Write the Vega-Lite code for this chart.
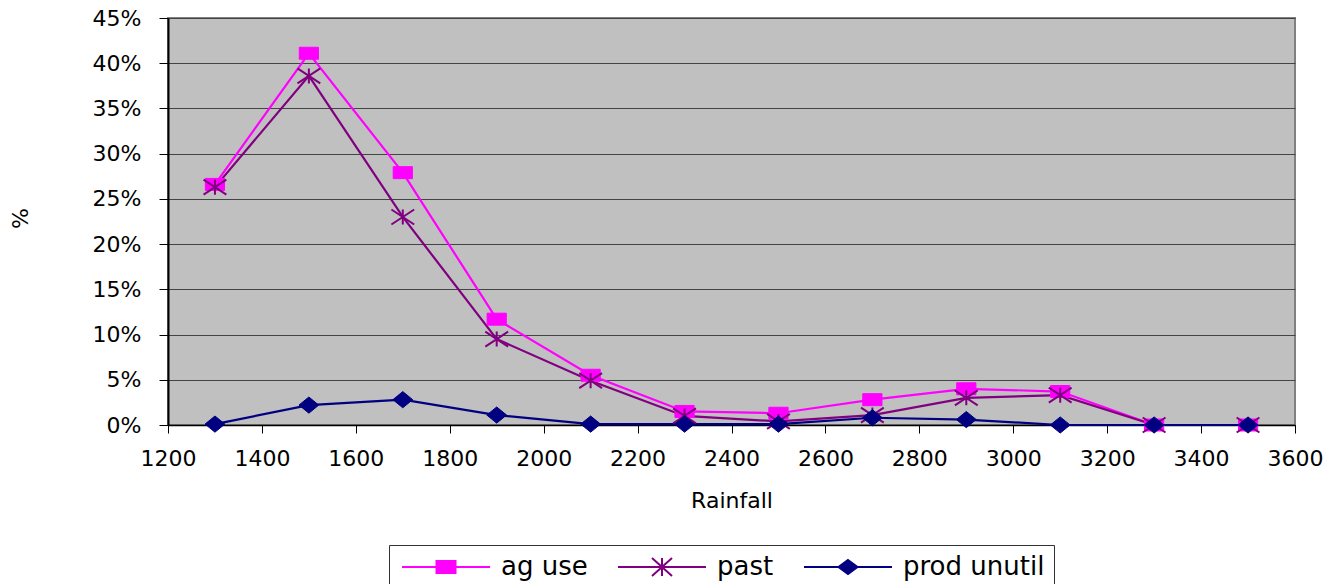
{
  "$schema": "https://vega.github.io/schema/vega-lite/v6.json",
  "width": 1127,
  "height": 407,
  "autosize": {"type": "none"},
  "padding": {"left": 168, "top": 18, "right": 47, "bottom": 159},
  "background": "white",
  "data": {
    "values": [
      {"rainfall": 1300, "series": "ag use", "pct": 0.266},
      {"rainfall": 1500, "series": "ag use", "pct": 0.411},
      {"rainfall": 1700, "series": "ag use", "pct": 0.279},
      {"rainfall": 1900, "series": "ag use", "pct": 0.117},
      {"rainfall": 2100, "series": "ag use", "pct": 0.055},
      {"rainfall": 2300, "series": "ag use", "pct": 0.015},
      {"rainfall": 2500, "series": "ag use", "pct": 0.013},
      {"rainfall": 2700, "series": "ag use", "pct": 0.028},
      {"rainfall": 2900, "series": "ag use", "pct": 0.040},
      {"rainfall": 3100, "series": "ag use", "pct": 0.037},
      {"rainfall": 3300, "series": "ag use", "pct": 0.0},
      {"rainfall": 3500, "series": "ag use", "pct": 0.0},
      {"rainfall": 1300, "series": "past", "pct": 0.263},
      {"rainfall": 1500, "series": "past", "pct": 0.386},
      {"rainfall": 1700, "series": "past", "pct": 0.230},
      {"rainfall": 1900, "series": "past", "pct": 0.095},
      {"rainfall": 2100, "series": "past", "pct": 0.049},
      {"rainfall": 2300, "series": "past", "pct": 0.010},
      {"rainfall": 2500, "series": "past", "pct": 0.004},
      {"rainfall": 2700, "series": "past", "pct": 0.011},
      {"rainfall": 2900, "series": "past", "pct": 0.030},
      {"rainfall": 3100, "series": "past", "pct": 0.033},
      {"rainfall": 3300, "series": "past", "pct": 0.0},
      {"rainfall": 3500, "series": "past", "pct": 0.0},
      {"rainfall": 1300, "series": "prod unutil", "pct": 0.001},
      {"rainfall": 1500, "series": "prod unutil", "pct": 0.022},
      {"rainfall": 1700, "series": "prod unutil", "pct": 0.028},
      {"rainfall": 1900, "series": "prod unutil", "pct": 0.011},
      {"rainfall": 2100, "series": "prod unutil", "pct": 0.001},
      {"rainfall": 2300, "series": "prod unutil", "pct": 0.001},
      {"rainfall": 2500, "series": "prod unutil", "pct": 0.001},
      {"rainfall": 2700, "series": "prod unutil", "pct": 0.008},
      {"rainfall": 2900, "series": "prod unutil", "pct": 0.006},
      {"rainfall": 3100, "series": "prod unutil", "pct": 0.0},
      {"rainfall": 3300, "series": "prod unutil", "pct": 0.0},
      {"rainfall": 3500, "series": "prod unutil", "pct": 0.0}
    ]
  },
  "encoding": {
    "x": {
      "field": "rainfall",
      "type": "quantitative",
      "title": "Rainfall",
      "scale": {"domain": [1200, 3600], "nice": false, "zero": false},
      "axis": {
        "values": [1200, 1400, 1600, 1800, 2000, 2200, 2400, 2600, 2800, 3000, 3200, 3400, 3600],
        "format": "d",
        "grid": false,
        "tickSize": 8,
        "tickColor": "black",
        "domainColor": "black",
        "domainWidth": 1.5,
        "labelPadding": 15,
        "labelFontSize": 22,
        "labelFlush": false,
        "titleFontSize": 22,
        "titleFontWeight": "normal",
        "titlePadding": 21
      }
    },
    "y": {
      "field": "pct",
      "type": "quantitative",
      "title": "%",
      "scale": {"domain": [0, 0.45], "nice": false},
      "axis": {
        "values": [0, 0.05, 0.1, 0.15, 0.2, 0.25, 0.3, 0.35, 0.4, 0.45],
        "format": ".0%",
        "grid": true,
        "gridColor": "#444444",
        "gridWidth": 1.2,
        "tickSize": 9,
        "tickColor": "black",
        "domainColor": "black",
        "domainWidth": 2,
        "labelPadding": 18,
        "labelFontSize": 22,
        "titleFontSize": 22,
        "titleFontWeight": "normal",
        "titleX": -148,
        "titleY": 200,
        "titleAngle": -90,
        "titleAlign": "center",
        "titleBaseline": "middle"
      }
    }
  },
  "layer": [
    {
      "mark": {"type": "line", "strokeWidth": 2.2},
      "encoding": {
        "color": {
          "field": "series",
          "type": "nominal",
          "scale": {"domain": ["ag use", "past", "prod unutil"], "range": ["#ff00ff", "#800080", "#000080"]},
          "legend": {
            "title": null,
            "orient": "none",
            "direction": "horizontal",
            "legendX": 221,
            "legendY": 527,
            "strokeColor": "#333333",
            "fillColor": "white",
            "padding": 9,
            "cornerRadius": 0,
            "symbolSize": 400,
            "symbolStrokeWidth": 2,
            "symbolOffset": 35,
            "labelOffset": 42,
            "columnPadding": 26,
            "labelFontSize": 26,
            "labelColor": "black",
            "encode": {
              "symbols": {
                "update": {
                  "shape": {"signal": "datum.value === 'ag use' ? 'M-4.4,0H4.4M-0.95,-0.6H0.95V0.6H-0.95Z' : datum.value === 'past' ? 'M-4.4,0H4.4M-1,-0.9L1,0.9M-1,0.9L1,-0.9M0,-0.9V0.9' : 'M-4.4,0H4.4M0,-0.7L0.95,0L0,0.7L-0.95,0Z'"},
                  "fill": {"signal": "datum.value === 'ag use' ? '#ff00ff' : datum.value === 'past' ? 'transparent' : '#000080'"},
                  "stroke": {"signal": "datum.value === 'ag use' ? '#ff00ff' : datum.value === 'past' ? '#800080' : '#000080'"},
                  "strokeWidth": {"value": 2},
                  "opacity": {"value": 1}
                }
              }
            }
          }
        }
      }
    },
    {
      "transform": [{"filter": "datum.series === 'ag use'"}],
      "mark": {"type": "point", "shape": "M-1.6,-1H1.6V1H-1.6Z", "filled": true, "fill": "#ff00ff", "stroke": "#ff00ff", "opacity": 1, "size": 144, "strokeWidth": 1}
    },
    {
      "transform": [{"filter": "datum.series === 'past'"}],
      "mark": {"type": "point", "shape": "M-1.9,-1.25L1.9,1.25M-1.9,1.25L1.9,-1.25M0,-1.25V1.25", "filled": false, "stroke": "#800080", "opacity": 1, "size": 144, "strokeWidth": 2}
    },
    {
      "transform": [{"filter": "datum.series === 'prod unutil'"}],
      "mark": {"type": "point", "shape": "M0,-1.35L1.65,0L0,1.35L-1.65,0Z", "filled": true, "fill": "#000080", "stroke": "#000080", "opacity": 1, "size": 144, "strokeWidth": 1}
    }
  ],
  "config": {
    "font": "DejaVu Sans",
    "view": {"fill": "#c0c0c0", "stroke": "#808080", "strokeWidth": 2},
    "axis": {"labelColor": "black", "titleColor": "black"}
  }
}
